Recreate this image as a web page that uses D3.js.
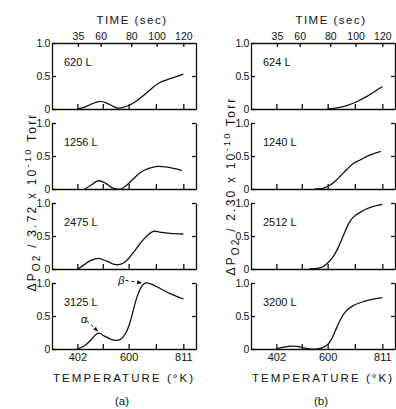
<!DOCTYPE html>
<html>
<head>
<meta charset="utf-8">
<script src="https://cdn.jsdelivr.net/npm/d3@7"></script>
<style>
  body { margin: 0; background: #fff; }
  svg { display: block; }
  text { font-family: "Liberation Sans", Arial, sans-serif; fill: #111; }
</style>
</head>
<body>
<svg id="chart" width="396" height="409"></svg>
<script>
// tick values
const tempTicks = [402, 500, 600, 705, 811];
const tempTickLabels = ["402", "", "600", "", "811"];
const timeTicks = [35, 60, 80, 100, 120];
const timeTickTemps = [404, 492, 610, 708, 811];
const yTicks = [0, 0.5, 1.0];
const yTickLabels = ["0", "0.5", "1.0"];

// dose labels
const dosesA = ["620 L", "1256 L", "2475 L", "3125 L"];
const dosesB = ["624 L", "1240 L", "2512 L", "3200 L"];

// curves: [temperature (K), normalized pressure]
const curveA620 = [[402,0],[430,0.03],[460,0.08],[489,0.115],[515,0.09],[540,0.04],[556,0.015],[575,0.02],[605,0.06],[640,0.15],[680,0.28],[715,0.39],[760,0.46],[811,0.53]];
const curveA1256 = [[431,0],[455,0.06],[483,0.125],[510,0.09],[535,0.02],[550,0],[570,0],[590,0.05],[615,0.14],[645,0.25],[675,0.31],[705,0.34],[750,0.33],[805,0.28]];
const curveA2475 = [[404,0],[430,0.07],[455,0.13],[483,0.16],[515,0.12],[545,0.07],[560,0.065],[580,0.09],[600,0.16],[620,0.26],[645,0.39],[670,0.5],[695,0.57],[720,0.56],[760,0.54],[811,0.53]];
const curveA3125 = [[402,0],[430,0.05],[455,0.14],[470,0.21],[485,0.24],[505,0.2],[530,0.15],[550,0.13],[570,0.15],[590,0.25],[605,0.4],[620,0.62],[635,0.82],[650,0.95],[665,1.0],[690,0.98],[720,0.92],[760,0.84],[811,0.76]];

const curveB624 = [[600,0],[640,0.02],[680,0.06],[712,0.11],[760,0.21],[811,0.34]];
const curveB1240 = [[550,0],[580,0.01],[610,0.06],[630,0.12],[650,0.2],[675,0.3],[700,0.39],[725,0.44],[760,0.51],[805,0.57]];
const curveB2512 = [[530,0],[560,0.01],[580,0.03],[600,0.09],[620,0.18],[640,0.32],[660,0.5],[680,0.68],[700,0.79],[730,0.87],[770,0.94],[811,0.98]];
const curveB3200 = [[402,0],[420,0.02],[450,0.04],[480,0.04],[505,0.02],[530,0],[560,0],[580,0.02],[600,0.07],[615,0.15],[630,0.28],[650,0.45],[670,0.57],[700,0.66],[740,0.72],[780,0.76],[811,0.78]];

const curvesA = [curveA620, curveA1256, curveA2475, curveA3125];
const curvesB = [curveB624, curveB1240, curveB2512, curveB3200];

// peak labels in the 3125 L panel
const peakLabels = [
  { text: "α", at: [416, 0.40], from: [438, 0.43], to: [481, 0.27] },
  { text: "β", at: [560, 0.99], from: [588, 1.04], to: [650, 1.0] }
];

const svg = d3.select("#chart");
const panelW = 144, panelH = 66, rowStep = 80;
const colX = [52, 251];
const rowTop = 43;
const ink = "#111";

const x = d3.scaleLinear().domain([304, 860]).range([0, panelW]);
const y = d3.scaleLinear().domain([0, 1]).range([panelH, 0]);

const line = d3.line()
  .x(d => x(d[0]))
  .y(d => y(d[1]))
  .curve(d3.curveCatmullRom.alpha(0.5));

svg.append("defs").append("marker")
  .attr("id", "arrow")
  .attr("viewBox", "0 0 10 10")
  .attr("refX", 9).attr("refY", 5)
  .attr("markerWidth", 5).attr("markerHeight", 5)
  .attr("orient", "auto")
  .append("path")
  .attr("d", "M0,1 L10,5 L0,9 Z")
  .attr("fill", ink);

function styleAxis(g) {
  g.attr("font-family", "Liberation Sans, Arial, sans-serif")
   .attr("font-size", 11)
   .style("color", ink);
  g.selectAll("path, line").attr("stroke-width", 1.3);
}

function drawColumn(col, curves, doses, yLabelNum, yLabelY, caption) {
  const x0 = colX[col];

  curves.forEach((data, i) => {
    const top = rowTop + i * rowStep;
    const g = svg.append("g").attr("transform", `translate(${x0},${top})`);

    // bottom axis
    g.append("g")
      .attr("transform", `translate(0,${panelH})`)
      .call(d3.axisBottom(x).tickValues(tempTicks).tickSizeInner(-5).tickSizeOuter(0)
        .tickPadding(4)
        .tickFormat((d, k) => i === 3 ? tempTickLabels[k] : ""))
      .call(styleAxis);

    // left axis
    g.append("g")
      .call(d3.axisLeft(y).tickValues(yTicks).tickSizeInner(-4).tickSizeOuter(0)
        .tickPadding(2)
        .tickFormat((d, k) => yTickLabels[k]))
      .call(styleAxis)
      .selectAll("text").attr("font-size", 10.5).attr("letter-spacing", -0.4);

    // right axis
    g.append("g")
      .attr("transform", `translate(${panelW},0)`)
      .call(d3.axisRight(y).tickValues(i === 0 ? [0.5] : [0.5, 1]).tickSizeInner(-4).tickSizeOuter(0)
        .tickFormat(""))
      .call(styleAxis);

    // top time axis on first panel
    if (i === 0) {
      g.append("g")
        .call(d3.axisTop(x).tickValues(timeTickTemps).tickSizeInner(-4).tickSizeOuter(0)
          .tickPadding(3)
          .tickFormat((d, k) => timeTicks[k]))
        .call(styleAxis)
        .selectAll("text").attr("font-size", 10.5);
    }

    g.append("path")
      .datum(data)
      .attr("d", line)
      .attr("fill", "none")
      .attr("stroke", ink)
      .attr("stroke-width", 1.3);

    g.append("text")
      .attr("x", 12).attr("y", 23)
      .attr("font-size", 11)
      .text(doses[i]);

    if (col === 0 && i === 3) {
      peakLabels.forEach(p => {
        g.append("text")
          .attr("x", x(p.at[0])).attr("y", y(p.at[1]))
          .attr("font-size", 11).attr("font-style", "italic")
          .text(p.text);
        g.append("line")
          .attr("x1", x(p.from[0])).attr("y1", y(p.from[1]))
          .attr("x2", x(p.to[0])).attr("y2", y(p.to[1]))
          .attr("stroke", ink).attr("stroke-width", 1)
          .attr("stroke-dasharray", "3,3")
          .attr("marker-end", "url(#arrow)");
      });
    }
  });

  const cx = x0 + panelW / 2;

  svg.append("text")
    .attr("x", cx + 8).attr("y", 24)
    .attr("text-anchor", "middle")
    .attr("font-size", 11.5)
    .attr("letter-spacing", 1.5)
    .text("TIME (sec)");

  svg.append("text")
    .attr("x", x0 + 1).attr("y", 382)
    .attr("font-size", 11.5)
    .attr("textLength", 140)
    .attr("lengthAdjust", "spacing")
    .text("TEMPERATURE (°K)");

  svg.append("text")
    .attr("x", cx - 2).attr("y", 405)
    .attr("text-anchor", "middle")
    .attr("font-size", 11.5)
    .text(caption);

  // rotated y label
  const yl = svg.append("text")
    .attr("transform", `translate(${x0 - 16},${yLabelY}) rotate(-90)`)
    .attr("text-anchor", "middle")
    .attr("font-size", 12)
    .attr("letter-spacing", 2.2);
  yl.append("tspan").text("ΔP");
  yl.append("tspan").attr("dy", 4).attr("font-size", 10).text("O2");
  yl.append("tspan").attr("dy", -4).text(" / " + yLabelNum + " x 10");
  yl.append("tspan").attr("dy", -5).attr("font-size", 9.5).text("-10");
  yl.append("tspan").attr("dy", 5).text(" Torr");
}

drawColumn(0, curvesA, dosesA, "3.72", 202, "(a)");
drawColumn(1, curvesB, dosesB, "2.30", 186, "(b)");
</script>
</body>
</html>
